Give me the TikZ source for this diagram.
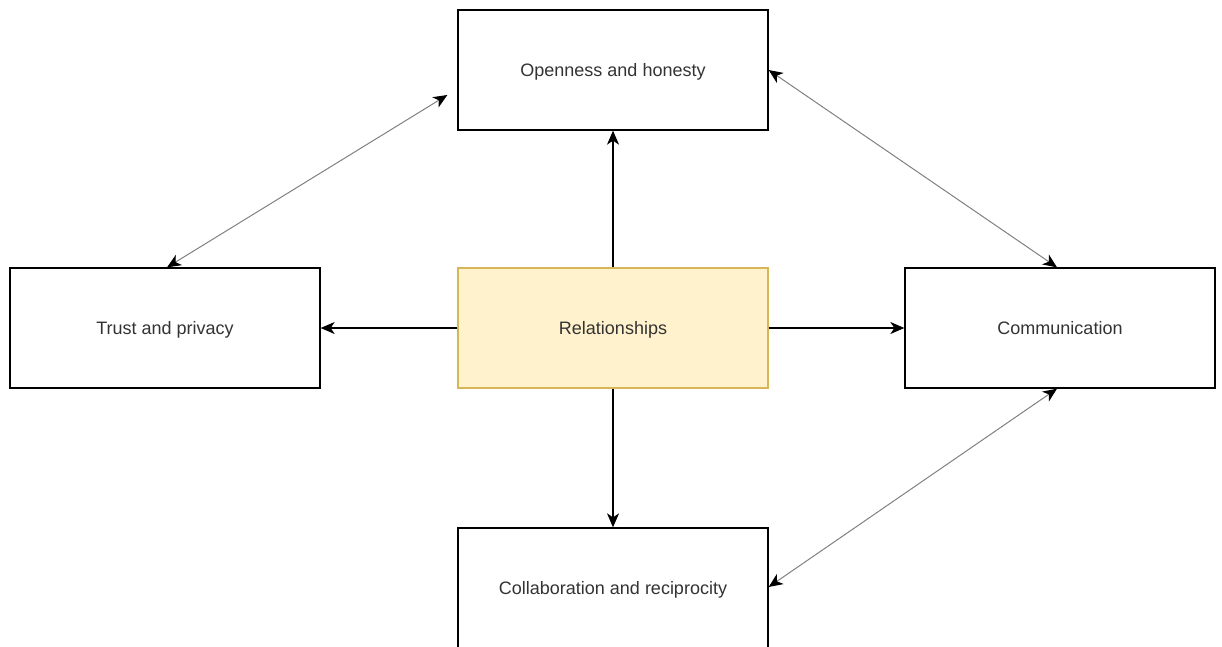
\documentclass[tikz,border=0pt]{standalone}
\usepackage{fontspec}
\setmainfont{Liberation Sans}
\usetikzlibrary{arrows.meta}
\definecolor{noteFill}{HTML}{FFF2CC}
\definecolor{noteLine}{HTML}{D6B656}
\definecolor{txt}{HTML}{333333}
\begin{document}
\begin{tikzpicture}[x=1pt,y=-1pt,
  box/.style={draw=black,line width=1.3pt,fill=white,minimum width=310pt,minimum height=120pt,
    inner sep=0pt,text=txt,font=\fontsize{18}{21}\selectfont,
    text height=13pt,text depth=0pt},
  hub/.style={box,fill=noteFill,draw=noteLine},
  tip/.style={Stealth[length=14pt,width=12pt,inset=4pt,black]},
  link/.style={line width=1.3pt,-{Stealth[length=14pt,width=12pt,inset=4pt]}},
  mutual/.style={draw=gray,line width=1pt,{Stealth[length=14pt,width=12pt,inset=4pt,black]}-{Stealth[length=14pt,width=12pt,inset=4pt,black]}}]
\useasboundingbox (0,0) rectangle (1222,646);
\node[box] (open) at (613,70) {Openness and honesty};
\node[box] (trust) at (165,328) {Trust and privacy};
\node[hub] (rel) at (613,328) {Relationships};
\node[box] (comm) at (1060,328) {Communication};
\node[box] (collab) at (613,588) {Collaboration and reciprocity};
% arrows from the hub
\draw[link] (rel.north) -- (open.south);
\draw[link] (rel.west) -- (trust.east);
\draw[link] (rel.east) -- (comm.west);
\draw[link] (rel.south) -- (collab.north);
% two-way links between the outer boxes
\coordinate (openW) at ([xshift=-10pt]open.west |- 0,95);
\draw[mutual] (openW) -- ([xshift=2pt]trust.north);
\draw[mutual] (open.east |- 0,70) -- ([xshift=-3pt]comm.north);
\draw[mutual] ([xshift=-3pt]comm.south) -- (collab.east |- 0,587);
\end{tikzpicture}
\end{document}
